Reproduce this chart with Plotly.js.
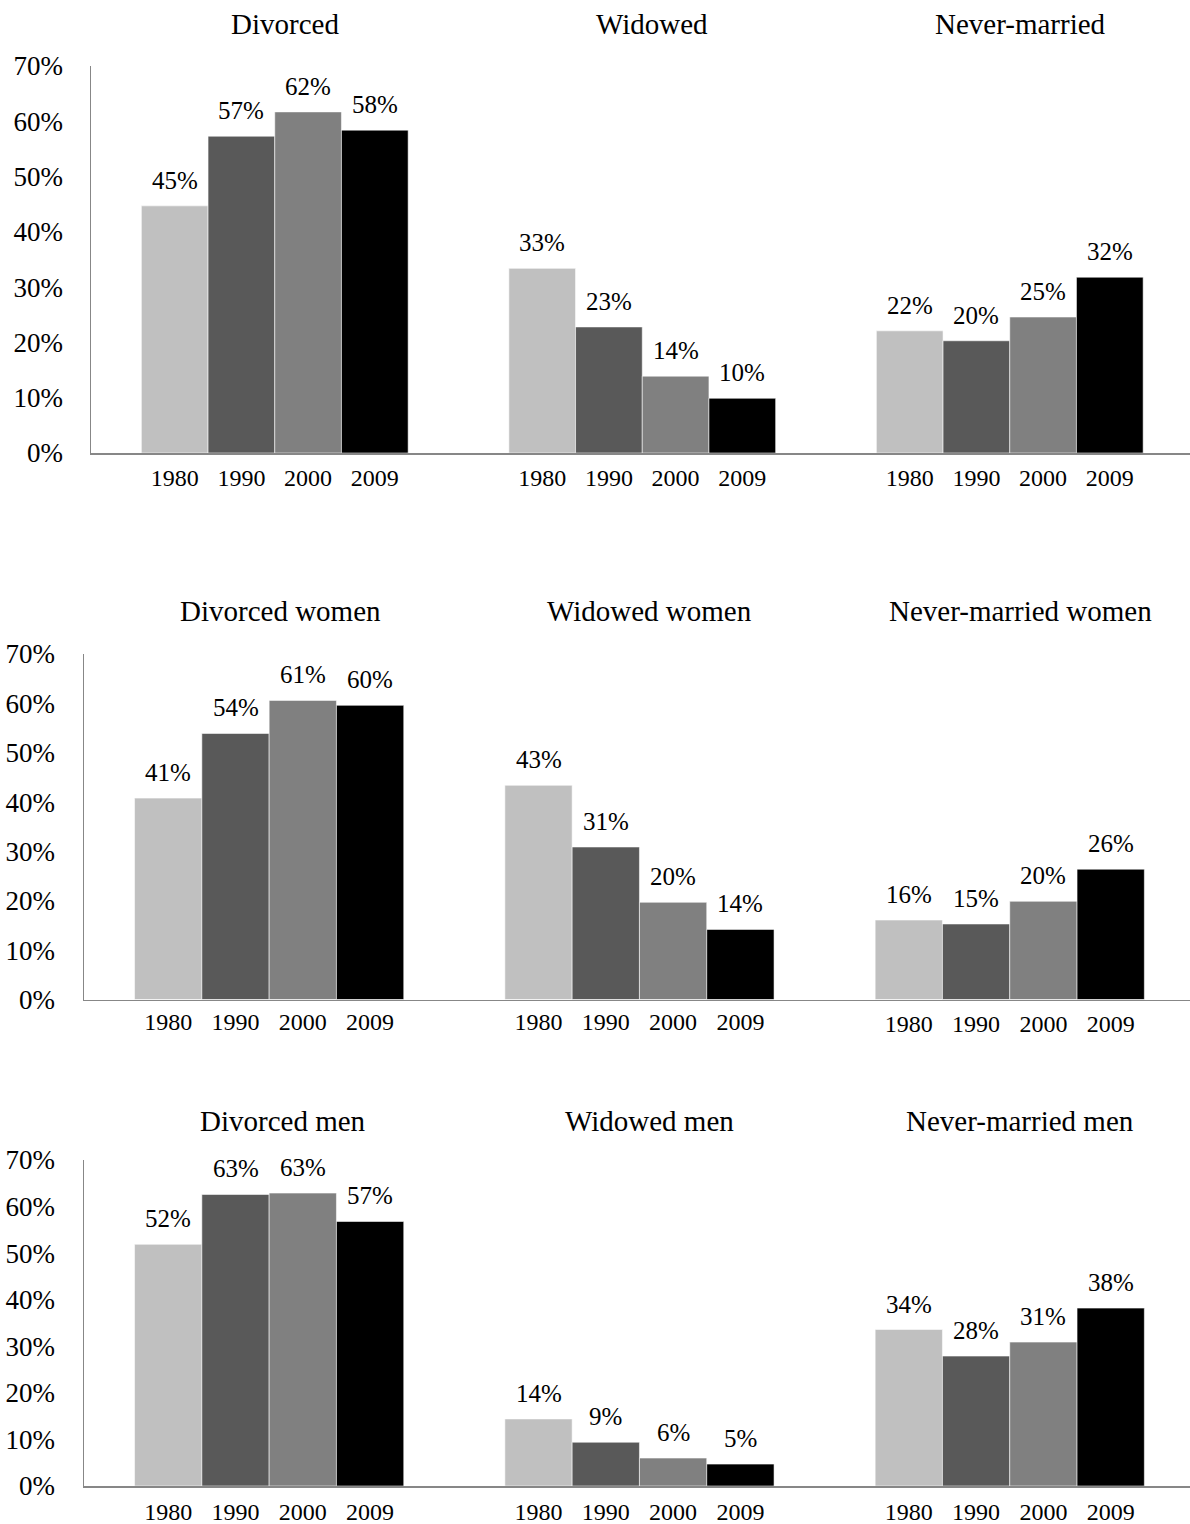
<!DOCTYPE html>
<html><head><meta charset="utf-8">
<script src="https://cdn.plot.ly/plotly-3.0.1.min.js"></script>
<style>html,body{margin:0;padding:0;background:#fff}</style>
</head><body><div id="chart" style="width:1190px;height:1524px"></div>
<script>
// ---- data ----
const years = ['1980', '1990', '2000', '2009'];
const rowTitles = [
  ['Divorced', 'Widowed', 'Never-married'],
  ['Divorced women', 'Widowed women', 'Never-married women'],
  ['Divorced men', 'Widowed men', 'Never-married men']
];
const divorced = [0.447, 0.573, 0.617, 0.584];
const widowed = [0.334, 0.228, 0.139, 0.099];
const neverMarried = [0.221, 0.203, 0.246, 0.318];
const divorcedWomen = [0.408, 0.539, 0.606, 0.596];
const widowedWomen = [0.434, 0.309, 0.197, 0.142];
const neverMarriedWomen = [0.161, 0.153, 0.199, 0.264];
const divorcedMen = [0.519, 0.626, 0.629, 0.568];
const widowedMen = [0.144, 0.094, 0.060, 0.047];
const neverMarriedMen = [0.336, 0.279, 0.309, 0.382];
const panelValues = [
  [divorced, widowed, neverMarried],
  [divorcedWomen, widowedWomen, neverMarriedWomen],
  [divorcedMen, widowedMen, neverMarriedMen]
];

// ---- style / layout ----
const yearColors = ['#c0c0c0', '#595959', '#808080', '#000000'];
const FONT = '"Liberation Serif", "Times New Roman", serif';
const AX = '#878787';
const W = 1190, H = 1524;
const rowsGeo = [
  {axisX: 91, period: 367.5, barW: 66.7, top: 66, bottom: 453, titleY: 24, titleX: [285, 652, 1021], xTickLen: [3, 3, 3], yTickLen: 21},
  {axisX: 84, period: 370.3, barW: 67.3, top: 654, bottom: 999.5, titleY: 611, titleX: [280, 650, 1020], xTickLen: [0, 0, 2], yTickLen: 22},
  {axisX: 84, period: 370.3, barW: 67.3, top: 1160, bottom: 1486, titleY: 1121, titleX: [283, 650, 1020], xTickLen: [4, 4, 4], yTickLen: 22}
];

const traces = [];
const layout = {
  width: W, height: H,
  margin: {l: 0, r: 0, t: 0, b: 0},
  paper_bgcolor: '#ffffff', plot_bgcolor: 'rgba(0,0,0,0)',
  showlegend: false, bargap: 0,
  font: {family: FONT, size: 24, color: '#000000'},
  annotations: []
};

rowsGeo.forEach((g, r) => {
  const yName = r === 0 ? 'yaxis' : 'yaxis' + (r + 1);
  const yId = r === 0 ? 'y' : 'y' + (r + 1);
  const firstX = r * 3 + 1;
  layout[yName] = {
    domain: [1 - g.bottom / H, 1 - g.top / H],
    range: [0, 0.7], tick0: 0, dtick: 0.1, tickformat: '.0%',
    showgrid: false, zeroline: false,
    showline: true, linecolor: AX, linewidth: 1.5,
    ticks: 'outside', ticklen: g.yTickLen, tickcolor: 'rgba(0,0,0,0)',
    tickfont: {family: FONT, size: 27, color: '#000'},
    anchor: firstX === 1 ? 'x' : 'x' + firstX,
    fixedrange: true
  };
  for (let p = 0; p < 3; p++) {
    const idx = r * 3 + p + 1;
    const xName = idx === 1 ? 'xaxis' : 'xaxis' + idx;
    const xId = idx === 1 ? 'x' : 'x' + idx;
    const start = g.axisX + p * g.period;
    const center = start + g.period / 2;
    const end = Math.min(start + g.period, W);
    const tl = g.xTickLen[p];
    layout[xName] = {
      domain: [start / W, end / W],
      anchor: yId, type: 'category',
      range: [1.5 - (center - start) / g.barW, 1.5 + (end - center) / g.barW],
      showgrid: false, zeroline: false,
      showline: true, linecolor: AX, linewidth: 1.5,
      ticks: tl > 0 ? 'outside' : '', ticklen: tl, tickcolor: 'rgba(0,0,0,0)',
      tickfont: {family: FONT, size: 24, color: '#000'},
      fixedrange: true
    };
    const vals = panelValues[r][p];
    traces.push({
      type: 'bar', x: years, y: vals, xaxis: xId, yaxis: yId,
      marker: {color: yearColors, line: {color: 'rgba(255,255,255,0.55)', width: 1}},
      hoverinfo: 'skip', cliponaxis: false
    });
    years.forEach((yr, i) => {
      layout.annotations.push({
        xref: xId, yref: yId, x: i, y: vals[i],
        text: Math.round(vals[i] * 100) + '%',
        showarrow: false, xanchor: 'center', yanchor: 'bottom', yshift: 10,
        font: {family: FONT, size: 25, color: '#000'}
      });
    });
    layout.annotations.push({
      xref: 'paper', yref: 'paper', x: g.titleX[p] / W, y: 1 - g.titleY / H,
      xanchor: 'center', yanchor: 'middle', showarrow: false,
      text: rowTitles[r][p],
      font: {family: FONT, size: 29, color: '#000'}
    });
  }
});

Plotly.newPlot('chart', traces, layout, {displayModeBar: false, staticPlot: true});
</script>
</body></html>
